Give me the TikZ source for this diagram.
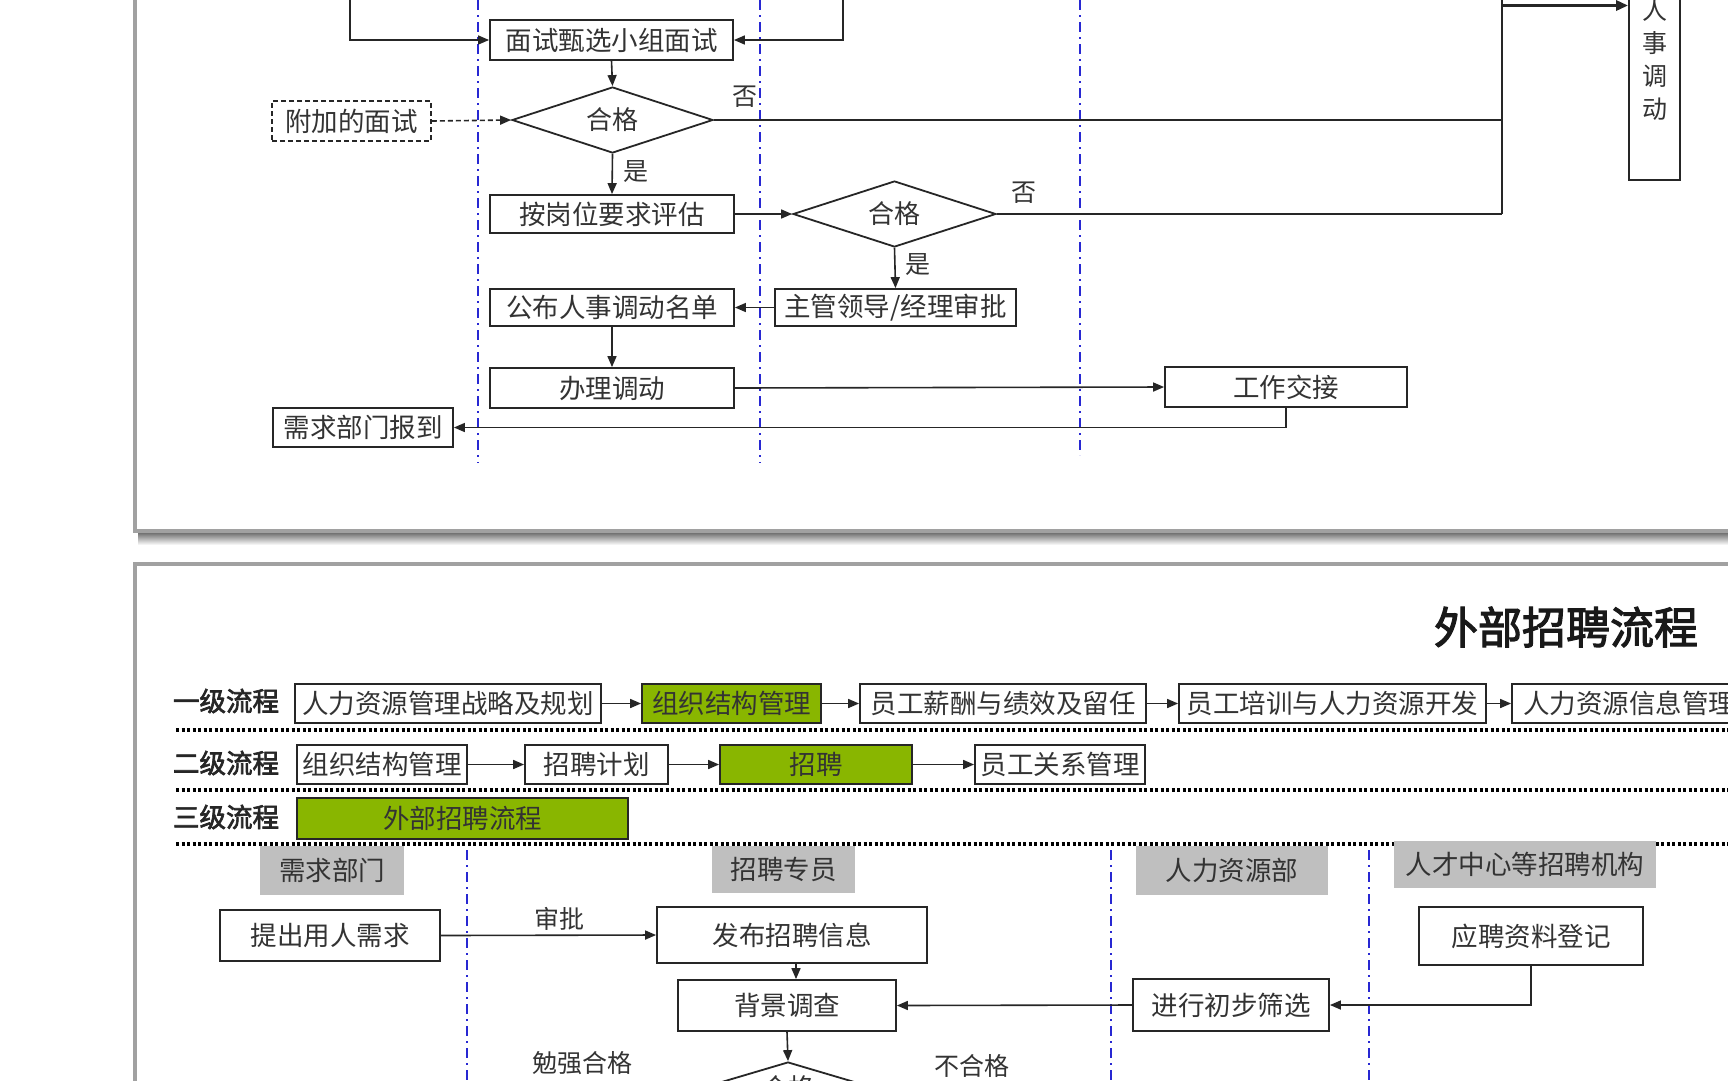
\documentclass[tikz,border=0pt]{standalone}
\usepackage{fontspec}
\setmainfont{Noto Sans CJK SC}[AutoFakeBold=2.5]
\usetikzlibrary{shapes.geometric,arrows.meta}
\newcommand\fsz[1]{\fontsize{#1}{#1}\selectfont}
\definecolor{hrgreen}{RGB}{137,182,0}
\definecolor{lanecol}{RGB}{40,40,210}
\begin{document}
\begin{tikzpicture}[x=1pt,y=-1pt,
  box/.style={draw=black!85, line width=1.8pt, fill=white, inner sep=0pt, font=\fsz{26.5}, text=black!80},
  gbox/.style={box, fill=hrgreen},
  hdr/.style={fill=black!25, inner sep=0pt, font=\fsz{26.5}, text=black!80},
  dia/.style={draw=black!85, line width=1.8pt, fill=white, diamond, aspect=3, inner sep=0pt, font=\fsz{26}, text=black!80},
  lbl/.style={font=\fsz{25}, text=black!80, inner sep=0pt},
  lvl/.style={font=\fsz{26.5}\bfseries, text=black!85, inner sep=0pt},
  ln/.style={line width=1.6pt, draw=black!85},
  arr/.style={line width=1.6pt, draw=black!85, -{Triangle[length=11pt,width=9pt]}},
  lane/.style={draw=lanecol, line width=2pt, dash pattern=on 10pt off 5pt on 2pt off 5pt},
  sepline/.style={line width=3.5pt, draw=black, dash pattern=on 3pt off 2.5pt},
  panel/.style={draw=black!37, line width=4pt}
]
\useasboundingbox (0,0) rectangle (1728,1080);
\clip (0,0) rectangle (1728,1080);
\fill[white] (0,0) rectangle (1728,1080);

% ---------------- top panel ----------------
\shade[top color=black!55, bottom color=white] (138,533) rectangle (1728,545);
\draw[panel] (135,-10) -- (135,531) -- (1740,531);

\draw[lane] (478,0) -- (478,463);
\draw[lane] (760,0) -- (760,463);
\draw[lane] (1080,0) -- (1080,455);

\node[box, minimum width=243, minimum height=40] (ms) at (611.5,40) {面试甄选小组面试};
\node[dia, minimum width=201, minimum height=66] (q1) at (612.5,120) {合格};
\node[box, dash pattern=on 5pt off 3pt, minimum width=159, minimum height=40] (fj) at (351.5,121) {附加的面试};
\node[box, minimum width=244, minimum height=38] (pg) at (612,214) {按岗位要求评估};
\node[dia, minimum width=203, minimum height=66] (q2) at (894.5,214) {合格};
\node[box, minimum width=241, minimum height=37] (zg) at (895.5,307.5) {主管领导/经理审批};
\node[box, minimum width=244, minimum height=37] (gb) at (612,307.5) {公布人事调动名单};
\node[box, minimum width=244, minimum height=40] (bl) at (612,388) {办理调动};
\node[box, minimum width=242, minimum height=40] (gz) at (1286,387) {工作交接};
\node[box, minimum width=180, minimum height=39] (xq) at (363,427.5) {需求部门报到};
\node[box, font=\fsz{25}, minimum width=51, minimum height=240, align=center] (rs) at (1654.5,60)
  {\fsz{25}人\\[8pt]事\\[8pt]调\\[8pt]动};

\coordinate (tl) at (350,-5);
\coordinate (tr) at (843,-5);
\coordinate (vtop) at (1502,-5);
\coordinate (vbot) at (1502,214);
\coordinate (va) at (1502,5.5);

\draw[arr] (tl) |- (ms.west);
\draw[arr] (tr) |- (ms.east);
\draw[arr] (ms.south) -- (q1.north);
\draw[arr, dash pattern=on 5pt off 3pt] (fj.east) -- (q1.west);
\draw[ln] (q1.east) -- (q1.east -| vbot);
\draw[ln] (q2.east) -- (vbot);
\draw[ln] (vbot) -- (vtop);
\draw[line width=3pt, draw=black!85, -{Triangle[length=12pt,width=10pt]}] (va) -- (va -| rs.west);
\draw[arr] (q1.south) -- (pg.north);
\draw[arr] (pg.east) -- (q2.west);
\draw[arr] (q2.south) -- (zg.north);
\draw[arr] (zg.west) -- (gb.east);
\draw[arr] (gb.south) -- (bl.north);
\draw[arr] (bl.east) -- (gz.west);
\draw[arr] (gz.south) |- (xq.east);

\node[lbl] (no1) at (745,97) {否};
\node[lbl] (no2) at (1024,193) {否};
\node[lbl] (yes1) at (636,172) {是};
\node[lbl] (yes2) at (918,265) {是};

% ---------------- bottom panel ----------------
\draw[panel] (135,1090) -- (135,564) -- (1740,564);

\node[font=\fsz{44}\bfseries, text=black!90, inner sep=0pt] (title) at (1566,627) {外部招聘流程};

\node[lvl] (l1) at (226,701) {一级流程};
\node[lvl] (l2) at (226,763) {二级流程};
\node[lvl] (l3) at (226,817) {三级流程};

\node[box, minimum width=306, minimum height=39] (a1) at (448,703.5) {人力资源管理战略及规划};
\node[gbox, minimum width=179, minimum height=39] (a2) at (731.5,703.5) {组织结构管理};
\node[box, minimum width=286, minimum height=39] (a3) at (1003,703.5) {员工薪酬与绩效及留任};
\node[box, minimum width=307, minimum height=39] (a4) at (1332.5,703.5) {员工培训与人力资源开发};
\node[box, minimum width=258, minimum height=39, text width=236, align=left] (a5) at (1641,703.5) {人力资源信息管理};
\draw[arr] (a1.east) -- (a2.west);
\draw[arr] (a2.east) -- (a3.west);
\draw[arr] (a3.east) -- (a4.west);
\draw[arr] (a4.east) -- (a5.west);
\draw[sepline] (176,730) -- (1728,730);

\node[box, minimum width=170, minimum height=39] (b1) at (382,764.5) {组织结构管理};
\node[box, minimum width=143, minimum height=39] (b2) at (596.5,764.5) {招聘计划};
\node[gbox, minimum width=192, minimum height=39] (b3) at (816,764.5) {招聘};
\node[box, minimum width=170, minimum height=39] (b4) at (1060,764.5) {员工关系管理};
\draw[arr] (b1.east) -- (b2.west);
\draw[arr] (b2.east) -- (b3.west);
\draw[arr] (b3.east) -- (b4.west);
\draw[sepline] (176,790) -- (1728,790);

\node[gbox, minimum width=331, minimum height=41] (c1) at (462.5,818.5) {外部招聘流程};
\draw[sepline] (176,844) -- (1728,844);

\node[hdr, minimum width=144, minimum height=49] (h1) at (332,870.5) {需求部门};
\node[hdr, minimum width=143, minimum height=47] (h2) at (783.5,869.5) {招聘专员};
\node[hdr, minimum width=192, minimum height=49] (h3) at (1232,870.5) {人力资源部};
\node[hdr, minimum width=262, minimum height=47] (h4) at (1525,864.5) {人才中心等招聘机构};

\draw[lane] (467,850) -- (467,1090);
\draw[lane] (1111,850) -- (1111,1090);
\draw[lane] (1369,850) -- (1369,1090);

\node[box, minimum width=220, minimum height=51] (d1) at (330,935.5) {提出用人需求};
\node[box, minimum width=270, minimum height=56] (d2) at (792,935) {发布招聘信息};
\node[box, minimum width=224, minimum height=58] (d3) at (1531,936) {应聘资料登记};
\node[box, minimum width=196, minimum height=52] (d4) at (1231,1005) {进行初步筛选};
\node[box, minimum width=218, minimum height=51] (d5) at (787,1005.5) {背景调查};
\node[dia, minimum width=174, minimum height=52] (q3) at (788,1088) {合格};

\coordinate (dx) at (796,0);
\draw[arr] (d1.east) -- (d2.west);
\draw[arr] (d3.south) |- (d4.east);
\draw[arr] (d4.west) -- (d5.east);
\draw[arr] (d2.south -| dx) -- (d5.north -| dx);
\draw[arr] (d5.south) -- (q3.north);

\node[lbl] (sp) at (559,919) {审批};
\node[lbl] (mq) at (582,1063) {勉强合格};
\node[lbl] (bh) at (972,1066) {不合格};
\end{tikzpicture}
\end{document}
